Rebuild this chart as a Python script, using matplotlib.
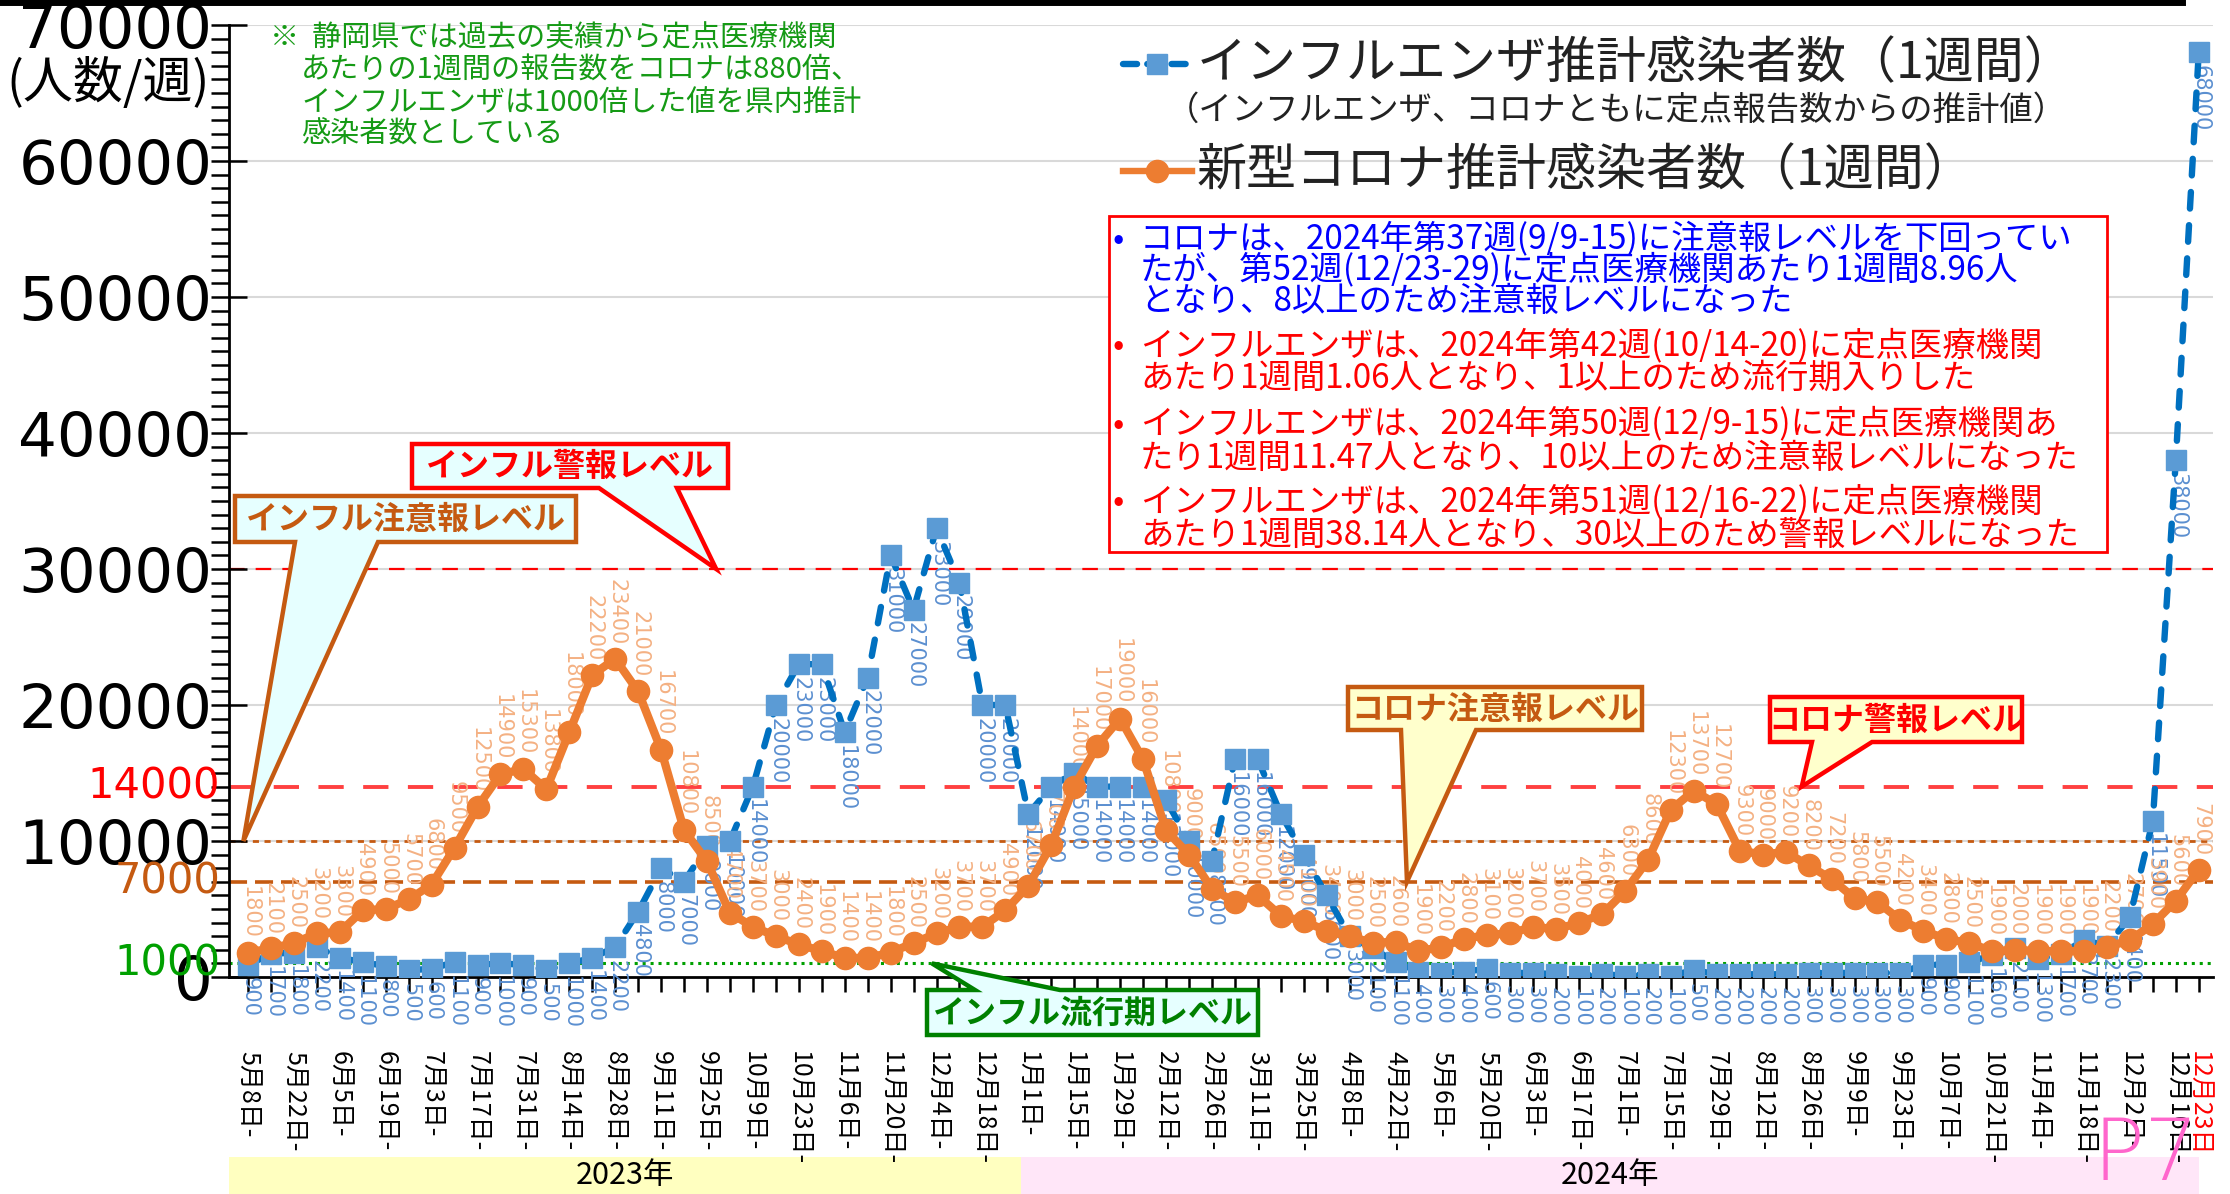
import matplotlib
matplotlib.use("Agg")
import matplotlib.pyplot as plt
from matplotlib.patches import Polygon, Rectangle
from matplotlib.lines import Line2D
from matplotlib.ticker import MultipleLocator
from matplotlib.transforms import blended_transform_factory
import numpy as np

plt.rcParams['font.family'] = ['Noto Sans CJK JP', 'DejaVu Sans']

# ---------------- data ----------------
date_labels = ["5月8日", "5月22日", "6月5日", "6月19日", "7月3日", "7月17日", "7月31日",
               "8月14日", "8月28日", "9月11日", "9月25日", "10月9日", "10月23日", "11月6日",
               "11月20日", "12月4日", "12月18日", "1月1日", "1月15日", "1月29日", "2月12日",
               "2月26日", "3月11日", "3月25日", "4月8日", "4月22日", "5月6日", "5月20日",
               "6月3日", "6月17日", "7月1日", "7月15日", "7月29日", "8月12日", "8月26日",
               "9月9日", "9月23日", "10月7日", "10月21日", "11月4日", "11月18日", "12月2日",
               "12月16日"]
last_label = "12月23日"

flu = [900, 1700, 1800, 2200, 1400, 1100, 800, 500, 600, 1100,
       900, 1000, 900, 500, 1000, 1400, 2200, 4800, 8000, 7000,
       9600, 10000, 14000, 20000, 23000, 23000, 18000, 22000, 31000, 27000,
       33000, 29000, 20000, 20000, 12000, 14000, 15000, 14000, 14000, 14000,
       13000, 10000, 8500, 16000, 16000, 12000, 9000, 6000, 3000, 2100,
       1100, 400, 300, 400, 600, 300, 300, 200, 100, 200,
       100, 200, 100, 500, 200, 200, 200, 200, 300, 300,
       300, 300, 300, 900, 900, 1100, 1600, 2100, 1300, 1700,
       2700, 2300, 4400, 11500, 38000, 68000]

covid = [1800, 2100, 2500, 3200, 3300, 4900, 5000, 5700, 6800, 9500,
         12500, 14900, 15300, 13800, 18000, 22200, 23400, 21000, 16700, 10800,
         8500, 4700, 3700, 3000, 2400, 1900, 1400, 1400, 1800, 2500,
         3200, 3700, 3700, 4900, 6700, 9700, 14000, 17000, 19000, 16000,
         10800, 9000, 6500, 5500, 6000, 4500, 4100, 3400, 3000, 2500,
         2600, 1900, 2200, 2800, 3100, 3200, 3700, 3500, 4000, 4600,
         6300, 8600, 12300, 13700, 12700, 9300, 9000, 9200, 8200, 7200,
         5800, 5500, 4200, 3400, 2800, 2500, 1900, 2000, 1900, 1900,
         1900, 2200, 2700, 3900, 5600, 7900]

flu_warning = 30000
flu_caution = 10000
covid_warning = 14000
covid_caution = 7000
flu_epidemic = 1000
year_labels = ["2023年", "2024年"]
year_start_idx = [0, 34]

flu_name = "インフルエンザ推計感染者数（1週間）"
covid_name = "新型コロナ推計感染者数（1週間）"
legend_note = "（インフルエンザ、コロナともに定点報告数からの推計値）"

note_lines = ["※  静岡県では過去の実績から定点医療機関",
              "あたりの1週間の報告数をコロナは880倍、",
              "インフルエンザは1000倍した値を県内推計",
              "感染者数としている"]

box_lines = [("•", "コロナは、2024年第37週(9/9-15)に注意報レベルを下回ってい", "#0000FF"),
             ("", "たが、第52週(12/23-29)に定点医療機関あたり1週間8.96人", "#0000FF"),
             ("", "となり、8以上のため注意報レベルになった", "#0000FF"),
             ("•", "インフルエンザは、2024年第42週(10/14-20)に定点医療機関", "#FF0000"),
             ("", "あたり1週間1.06人となり、1以上のため流行期入りした", "#FF0000"),
             ("•", "インフルエンザは、2024年第50週(12/9-15)に定点医療機関あ", "#FF0000"),
             ("", "たり1週間11.47人となり、10以上のため注意報レベルになった", "#FF0000"),
             ("•", "インフルエンザは、2024年第51週(12/16-22)に定点医療機関", "#FF0000"),
             ("", "あたり1週間38.14人となり、30以上のため警報レベルになった", "#FF0000")]

# ---------------- layout ----------------
W, H, DPI = 2230, 1194, 100
fig = plt.figure(figsize=(W / DPI, H / DPI), dpi=DPI)
fig.patch.set_facecolor("white")


def fx(px):
    return px / W


def fy(py):
    return 1 - py / H


AX_L, AX_R, AX_T, AX_B = 229, 2213, 25, 977
X0, SP = 248, 22.95
ax = fig.add_axes([fx(AX_L), fy(AX_B), (AX_R - AX_L) / W, (AX_B - AX_T) / H])
n = len(flu)
x = np.arange(n)
ax.set_xlim(-(X0 - AX_L) / SP, (n - 1) + (AX_R - (X0 + (n - 1) * SP)) / SP)
ax.set_ylim(0, 70000)

BLUE_LINE = "#0070C0"
BLUE_MK = "#5B9BD5"
BLUE_LBL = "#5B8FD0"
ORANGE = "#ED7D31"
ORANGE_LBL = "#F4B183"
BROWN = "#C55A11"
GREEN = "#00A000"
NOTE_GREEN = "#159A15"
RED = "#FF0000"

# grid
for v in range(10000, 70001, 10000):
    ax.axhline(v, color="#D9D9D9", lw=1.5, zorder=0)

# level lines
ax.axhline(flu_warning, color=RED, lw=1.6, ls=(0, (7, 5)), zorder=1)
ax.axhline(covid_warning, color="#FF4040", lw=2.8, ls=(0, (6.5, 5)), zorder=1)
ax.axhline(flu_caution, color=BROWN, lw=2.0, ls=(0, (2.2, 2.0)), zorder=1)
ax.axhline(covid_caution, color=BROWN, lw=2.6, ls=(0, (5, 2.2)), zorder=1)
ax.axhline(flu_epidemic, color=GREEN, lw=2.2, ls=(0, (1, 1.6)), zorder=1)

# series
ax.plot(x, flu, color=BLUE_LINE, lw=4.6, ls=(0, (2.6, 2.6)), dash_capstyle="round",
        marker="s", ms=14, mfc=BLUE_MK, mec=BLUE_MK, zorder=4)
ax.plot(x, covid, color=ORANGE, lw=6, marker="o", ms=16, mfc=ORANGE, mec=ORANGE, zorder=5)

# data labels
for i, v in enumerate(flu):
    ax.annotate(str(v), (i, v), xytext=(1, -9), textcoords="offset points",
                rotation=270, ha="center", va="top", fontsize=15, color=BLUE_LBL,
                family="DejaVu Sans", zorder=3)
for i, v in enumerate(covid):
    ax.annotate(str(v), (i, v), xytext=(1, 10), textcoords="offset points",
                rotation=270, ha="center", va="bottom", fontsize=15, color=ORANGE_LBL,
                family="DejaVu Sans", zorder=3)

# axes styling
for s in ["top", "right"]:
    ax.spines[s].set_visible(False)
ax.spines["left"].set_linewidth(2)
ax.spines["bottom"].set_linewidth(2)

ax.set_yticks(range(0, 70001, 10000))
ax.set_yticklabels([str(v) for v in range(0, 70001, 10000)], fontsize=44, family="DejaVu Sans")
ax.yaxis.set_minor_locator(MultipleLocator(1000))
ax.tick_params(axis="y", which="major", direction="inout", length=26, width=1.8, pad=-1)
ax.tick_params(axis="y", which="minor", direction="out", length=13, width=1.8)

tick_pos = list(range(0, n - 1, 2)) + [n - 1]
ax.set_xticks(tick_pos)
ax.set_xticklabels([d + "-" for d in date_labels] + [last_label], rotation=270, fontsize=18)
ax.set_xticks([i for i in range(n) if i not in tick_pos], minor=True)
ax.tick_params(axis="x", which="both", direction="out", length=11, width=1.8, pad=42)
ax.get_xticklabels()[-1].set_color(RED)

# special y labels
ytr = blended_transform_factory(ax.transAxes, ax.transData)
for val, col in [(covid_warning, RED), (covid_caution, BROWN), (flu_epidemic, GREEN)]:
    ax.text(-0.0045, val, str(val), transform=ytr, ha="right", va="center",
            fontsize=30, color=col, family="DejaVu Sans")

# y unit
fig.text(fx(108), fy(84), "(人数/週)", fontsize=36, ha="center", va="center")

# top border line
fig.add_artist(Line2D([0, fx(2182)], [fy(2), fy(2)], color="black", lw=5))

# green note
fig.text(fx(270), fy(38), note_lines[0], fontsize=21, color=NOTE_GREEN, ha="left", va="center")
for k, t in enumerate(note_lines[1:]):
    fig.text(fx(301), fy(71 + 32 * k), t, fontsize=21, color=NOTE_GREEN, ha="left", va="center")


# legend
def legend_row(y, color, marker, ms, ls, text, lc):
    fig.add_artist(Line2D([fx(1123), fx(1192)], [fy(y), fy(y)], color=lc, lw=4.6, ls=ls,
                          dash_capstyle="round"))
    fig.add_artist(Line2D([fx(1157)], [fy(y)], marker=marker, ms=ms, mfc=color, mec=color, ls="none"))
    fig.text(fx(1197), fy(y), text, fontsize=36, ha="left", va="center", color="#222222")


legend_row(64, BLUE_MK, "s", 14, (0, (2.2, 1.6)), flu_name, BLUE_LINE)
fig.text(fx(1166), fy(110), legend_note, fontsize=24, ha="left", va="center", color="#222222")
legend_row(171, ORANGE, "o", 16, "-", covid_name, ORANGE)

# red info box
fig.add_artist(Rectangle((fx(1109), fy(552)), fx(2107) - fx(1109), fy(216) - fy(552),
                         transform=fig.transFigure, fc="white", ec=RED, lw=2, zorder=6))
ys = [239, 270, 301, 346, 378, 424, 458, 502, 535]
for (b, t, c), yy in zip(box_lines, ys):
    if b:
        fig.text(fx(1113), fy(yy), b, fontsize=24, color=c, ha="left", va="center", zorder=7)
    fig.text(fx(1140), fy(yy), t, fontsize=24, color=c, ha="left", va="center", zorder=7)


# callouts
def data_px(xd, yd):
    d = ax.transData.transform((xd, yd))
    return d[0], H - d[1]


def callout(box, base, tip, text, edge, face, tcolor, side="bottom", fs=23):
    x0, y0, x1, y1 = box
    b0, b1 = base
    tx, ty = tip
    if side == "bottom":
        pts = [(x0, y0), (x1, y0), (x1, y1), (b1, y1), (tx, ty), (b0, y1), (x0, y1)]
    else:
        pts = [(x0, y0), (b0, y0), (tx, ty), (b1, y0), (x1, y0), (x1, y1), (x0, y1)]
    fp = [(fx(px), fy(py)) for px, py in pts]
    fig.add_artist(Polygon(fp, closed=True, transform=fig.transFigure, fc=face, ec=edge,
                           lw=3.2, joinstyle="miter", zorder=8))
    fig.text(fx((x0 + x1) / 2), fy((y0 + y1) / 2 + 1), text, fontsize=fs, color=tcolor,
             ha="center", va="center", fontweight="bold", zorder=9)


CYAN = "#E6FFFF"
YEL = "#FFFFCC"
callout((412, 444, 728, 488), (599, 677), data_px(20.4, flu_warning),
        "インフル警報レベル", RED, CYAN, RED)
callout((235, 496, 576, 542), (295, 378), data_px(-0.2, flu_caution),
        "インフル注意報レベル", BROWN, CYAN, BROWN)
callout((1348, 687, 1642, 730), (1401, 1476), data_px(50.5, covid_caution),
        "コロナ注意報レベル", BROWN, YEL, BROWN)
callout((1770, 697, 2022, 742), (1812, 1872), data_px(67.7, covid_warning),
        "コロナ警報レベル", RED, YEL, RED)
callout((927, 990, 1258, 1035), (975, 1060), data_px(29.8, flu_epidemic),
        "インフル流行期レベル", "#008000", CYAN, "#008000", side="top")

# year bands
btr = blended_transform_factory(ax.transData, fig.transFigure)
band_edges = [ax.get_xlim()[0], year_start_idx[1] - 0.3, n - 1]
band_colors = ["#FFFFC0", "#FFE6F8"]
for k in range(2):
    ax.add_patch(Rectangle((band_edges[k], 0), band_edges[k + 1] - band_edges[k], fy(1157),
                           transform=btr, fc=band_colors[k], ec="none", clip_on=False, zorder=0))
    ax.text((band_edges[k] + band_edges[k + 1]) / 2, fy(1176), year_labels[k], transform=btr,
            ha="center", va="center", fontsize=22, clip_on=False)

fig.text(fx(2146), fy(1156), "P7", fontsize=62, color="#FF66CC", ha="center", va="center",
         family="DejaVu Sans", fontweight="light")

fig.savefig("out.png", dpi=DPI)
